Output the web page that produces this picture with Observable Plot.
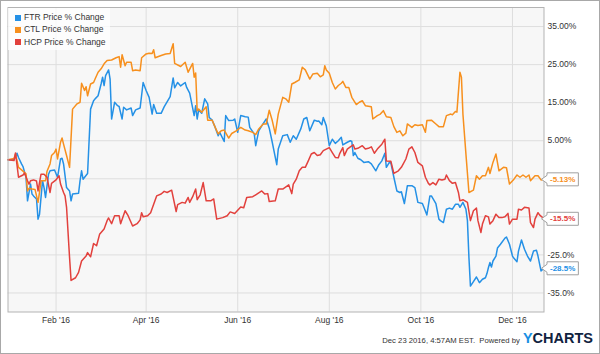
<!DOCTYPE html>
<html><head><meta charset="utf-8">
<script src="https://cdn.jsdelivr.net/npm/d3@7"></script>
<script src="https://cdn.jsdelivr.net/npm/@observablehq/plot@0.6"></script>
<style>
body{margin:0;background:#fff;font-family:"Liberation Sans",Arial,sans-serif;}
#wrap{position:relative;width:600px;height:354px;overflow:hidden;background:#fff;}
#wrap svg{position:absolute;left:0;top:0;}
#border{position:absolute;left:0;top:0;width:600px;height:354px;box-sizing:border-box;border:1px solid #a8a8a8;pointer-events:none;}
#legend{position:absolute;left:8px;top:8px;width:102px;height:42px;background:rgba(255,255,255,0.75);}
.lrow{position:absolute;left:7px;height:12px;line-height:12px;font-size:8.5px;color:#333;white-space:nowrap;}
.sw{display:inline-block;width:6px;height:6px;margin-right:3px;vertical-align:-0.5px;}
#footer{position:absolute;right:7px;top:330px;height:18px;display:flex;align-items:baseline;white-space:nowrap;}
#footer .ts{font-size:7.7px;color:#333;margin-right:3px;}
#footer .logo{font-size:14.5px;font-weight:bold;color:#10233f;letter-spacing:0px;}
#footer .logo .y{color:#1a8fe3;}
</style>
</head><body>
<div id="wrap"></div>
<script>
// ---- data (day of year 2016, Jan 1 = 0; values in % change) ----
const seriesNames = ["FTR Price % Change", "CTL Price % Change", "HCP Price % Change"];
const seriesColors = ["#2591e6", "#f7901e", "#e2413d"];
const endLabels = ["-28.5%", "-5.13%", "-15.5%"];

const ftr = [[-1,0],[3,0],[5,1.7],[6,0.6],[8,-1.1],[9,-1.8],[11,-4.6],[12,-10.8],[14,-6.4],[15,-9],[16,-9.5],[18,-10.3],[19,-15.6],[20,-14.3],[22,-5.5],[23,-7.3],[24,-9.9],[26,-3.8],[27,-2.9],[30,-2.7],[32,-4.6],[34,0.2],[35,0.4],[36,-1.1],[38,-7.3],[40,-8.2],[41,-10.8],[42,-9],[46,-8.8],[47,-5.5],[48,-2.9],[49,-5.1],[52,-3.6],[54,13.3],[56,15.5],[57,16],[59,16.8],[61,19.9],[62,21.7],[63,19.5],[64,22.1],[66,23.6],[67,21.2],[68,10.7],[70,15.1],[72,14.2],[73,14.0],[75,10.7],[76,13.8],[78,13.1],[81,13.6],[82,11.6],[84,13.1],[87,13.6],[89,20.3],[91,18.2],[93,16.4],[95,12],[96,14.5],[98,12.2],[101,12.2],[103,13.9],[107,16.6],[109,21.5],[110,18.9],[112,20.3],[114,19.4],[117,20.3],[118,19],[120,17.5],[123,11.6],[124,14.2],[125,10.7],[126,13.1],[128,12.2],[130,16],[132,14.7],[133,11.1],[135,10.4],[137,8.5],[139,6.3],[140,7.2],[143,4.8],[144,11.6],[146,10.3],[149,10.4],[150,10.7],[152,7.2],[154,11.6],[157,11.3],[159,11.2],[160,8.5],[163,6.8],[164,3.7],[166,7.6],[168,8.9],[171,10.7],[173,8.3],[175,4.6],[178,-1.3],[179,2.8],[182,6.3],[185,6.6],[187,4.6],[189,6.3],[191,5.4],[194,8.1],[196,10.7],[198,11.1],[200,7.6],[203,10.4],[205,10.1],[206,10.2],[208,9.2],[209,11.1],[211,8.9],[213,3.7],[215,5.4],[217,4.3],[219,5],[221,5.9],[222,3.9],[225,4.6],[227,5],[228,4.8],[229,1.1],[230,1.9],[232,0.4],[234,0],[236,-0.7],[239,-0.5],[241,-1.1],[244,-2.9],[246,-1.3],[248,-0.3],[250,1.7],[251,-2],[253,-0.7],[254,-0.8],[256,-4.6],[258,-8.2],[260,-8.6],[261,-8.4],[263,-11.5],[265,-6.8],[268,-6.8],[270,-7.3],[272,-11.2],[275,-11.5],[276,-12.5],[278,-14.5],[280,-9.5],[281,-9.5],[284,-11.5],[286,-15.6],[287,-16],[289,-16.5],[291,-13],[293,-12.7],[295,-13],[297,-11.7],[299,-11.7],[300,-12.5],[302,-11.2],[304,-13],[305,-16],[306,-25.7],[307,-33.2],[309,-32],[311,-30.8],[313,-32.3],[315,-31.4],[317,-31],[318,-29.9],[319,-28.3],[320,-27],[321,-28.2],[322,-26.6],[324,-25.3],[325,-23.2],[327,-22.2],[330,-20.6],[331,-20.3],[333,-22.2],[335,-25.3],[336,-25.9],[338,-26.8],[339,-24],[341,-21.1],[343,-23.5],[345,-25.3],[347,-26.6],[349,-24],[351,-23.8],[352,-25.3],[354,-29.2],[356,-28.5]];

const ctl = [[-1,0],[3,0.3],[4,1.5],[6,-2],[9,-3],[11,-3.7],[12,-8.2],[13,-7.5],[15,-7.7],[17,-7.8],[18,-9.5],[19,-11.2],[20,-8.5],[21,-5.5],[24,-5.5],[25,-3],[27,-1.1],[28,1.1],[30,1.9],[31,2.8],[32,0.2],[34,4.6],[35,5.7],[36,4.1],[38,1.1],[40,-2],[42,13.3],[45,14.7],[47,15.1],[48,20.1],[50,18.2],[51,19.2],[52,16.8],[54,19.9],[56,20.3],[57,21.2],[59,23],[61,23.9],[63,25.2],[65,26.1],[68,26.2],[71,26.8],[73,27.1],[74,24.3],[75,27.6],[77,24.7],[78,25.6],[81,25.6],[82,23.4],[84,23.6],[87,23.4],[88,26.8],[91,27.8],[93,28],[95,27.9],[96,28.9],[97,26.8],[101,27.4],[104,27.8],[107,27.9],[109,30.5],[110,25.3],[114,24.5],[117,25.6],[119,23],[122,25.3],[123,21.7],[124,22.8],[125,12.9],[126,13.3],[128,12.5],[131,13.9],[132,10.4],[135,10.4],[137,8.5],[139,6.8],[141,7.6],[143,7.8],[146,5.7],[148,6.9],[151,7.6],[154,8.5],[157,7.8],[159,7.6],[162,7.2],[164,6.6],[166,8.1],[169,9.4],[171,9.4],[173,13],[175,10.3],[177,6.8],[179,12],[182,16.4],[184,16],[186,15.1],[188,19.9],[190,20.3],[193,21],[195,24.3],[197,23.6],[200,21.2],[202,22.5],[205,22.7],[207,21.8],[209,22.3],[210,24.7],[211,23.6],[213,22.7],[215,20.3],[217,18.6],[219,19.5],[221,20.1],[222,20.6],[224,19],[226,19],[228,16.4],[231,14.5],[233,15.1],[235,15.5],[237,14.2],[241,13.9],[242,10.7],[245,11.6],[247,12],[249,12.9],[251,11.3],[254,11.1],[256,8.7],[258,7.2],[260,7.6],[262,6.3],[264,7.0],[265,9.4],[268,8.5],[270,9.2],[272,9.0],[275,9.2],[277,7.2],[278,10.3],[281,10.4],[284,9.4],[286,8.7],[289,8.7],[291,11.6],[294,12],[295,11.8],[297,12.7],[298,12.5],[300,23],[301,21.7],[302,12],[304,1.5],[306,-8.6],[309,-8],[311,-4.2],[313,-5.1],[315,-4.2],[317,-4.2],[319,-2],[320,-3.6],[322,-0.7],[324,1.5],[326,-2.9],[329,-2],[331,-2.1],[333,-6.4],[336,-5.1],[338,-4],[340,-4.6],[342,-4],[344,-4.6],[346,-4],[347,-5.5],[350,-4.2],[352,-4.2],[354,-5.3],[356,-5.13]];

const hcp = [[-1,0],[3,-0.2],[4,1.8],[6,-4.6],[9,-4.0],[10,-3.5],[12,-5.5],[13,-6.4],[14,-5.5],[16,-5.3],[18,-5.6],[19,-8.2],[21,-3.8],[23,-3.8],[25,-4.6],[27,-8.6],[28,-6.2],[31,-5.3],[33,-4.2],[34,-6.4],[36,-8.6],[37,-9.5],[38,-12.5],[40,-25.7],[41,-31.7],[44,-31],[46,-29.6],[48,-26.6],[51,-25.3],[52,-24.4],[54,-25.5],[56,-22],[58,-22.6],[60,-19.6],[63,-18.2],[65,-16],[66,-15.3],[68,-16.8],[70,-14.7],[73,-14.7],[74,-16.8],[77,-13.4],[79,-14.7],[82,-17.4],[85,-16.8],[87,-15.8],[88,-13.9],[89,-15],[92,-14.7],[94,-13.9],[98,-9.5],[101,-9],[103,-8.3],[105,-8.6],[108,-8],[111,-13.6],[112,-11.8],[115,-11.2],[117,-11.4],[119,-9.9],[120,-11.2],[122,-9.7],[124,-7.7],[125,-10.5],[127,-9.2],[129,-6],[131,-10.8],[134,-10.8],[136,-10.3],[138,-15.6],[142,-15.2],[145,-14.7],[147,-13.7],[150,-14.1],[154,-12.4],[156,-12.6],[158,-9.9],[162,-9.7],[164,-9.2],[168,-8.2],[170,-9],[172,-8.9],[173,-11],[177,-10.8],[179,-7.7],[182,-7.7],[186,-6.6],[188,-8.9],[189,-6.4],[191,-5.1],[193,-2.9],[195,-2],[197,-2],[199,-0.3],[201,1.5],[203,1.9],[205,1.1],[207,1.3],[209,2.4],[211,2.8],[213,3.2],[215,1.9],[217,0.6],[219,0.5],[220,1.7],[222,3.2],[223,1.1],[225,2.8],[227,3.4],[229,3.9],[230,2.8],[232,3.0],[235,3.7],[237,2.8],[239,3.0],[241,3.4],[243,1.7],[245,2.8],[248,4.1],[250,5.4],[251,-0.3],[254,-0.4],[256,-3.6],[259,-2.9],[261,-2],[264,0.2],[266,2.8],[268,3.4],[270,1.9],[272,-0.7],[275,-1.6],[277,-4.6],[279,-6.2],[280,-6.6],[282,-6],[284,-6.6],[286,-5.1],[288,-5.3],[290,-5.1],[291,-4],[293,-5.5],[295,-6.2],[297,-6],[299,-8.6],[300,-10.8],[302,-10.5],[305,-11.2],[307,-16],[309,-13.4],[311,-12.7],[312,-16],[314,-19.1],[315,-16.9],[317,-14.7],[319,-15],[320,-16.9],[322,-16],[324,-14.3],[326,-15.2],[328,-15.2],[330,-15],[332,-14.1],[333,-16.9],[335,-15.6],[338,-15.6],[339,-13],[341,-13.2],[343,-12.5],[346,-12.7],[347,-16.5],[349,-17.8],[350,-15.6],[352,-13.9],[353,-14.5],[356,-15.5]];

const xTicks = ["2016-02-01", "2016-04-01", "2016-06-01", "2016-08-01", "2016-10-01", "2016-12-01"];
const xTickLabels = ["Feb '16", "Apr '16", "Jun '16", "Aug '16", "Oct '16", "Dec '16"];
const yTicks = [35, 25, 15, 5, -5, -15, -25, -35];
const yTickLabels = ["35.00%", "25.00%", "15.00%", "5.00%", "", "", "-25.0%", "-35.0%"];
const xStart = -1, xEnd = 356;

// ---- build table ----
const toDate = d => new Date(Date.UTC(2016, 0, 1 + d));
const allSeries = [ftr, ctl, hcp];
const rows = [];
allSeries.forEach((s, i) => s.forEach(([d, v]) => rows.push({date: toDate(d), value: v, series: seriesNames[i]})));
const lastRows = allSeries.map((s, i) => ({date: toDate(s[s.length - 1][0]), value: s[s.length - 1][1], series: seriesNames[i], label: endLabels[i]}));
const xTickDates = xTicks.map(s => new Date(s + "T00:00:00Z"));

const FONT = '"Liberation Sans", Arial, sans-serif';
const chart = Plot.plot({
  width: 600, height: 354,
  marginLeft: 7.5, marginRight: 56.5, marginTop: 7, marginBottom: 42.5,
  style: {fontFamily: FONT, fontSize: "8.5px", color: "#333", background: "transparent", overflow: "visible"},
  x: {type: "utc", domain: [toDate(xStart), toDate(xEnd)], ticks: xTickDates,
      tickFormat: d => xTickLabels[xTickDates.findIndex(t => +t === +d)], tickSize: 0, tickPadding: 5, label: null},
  y: {domain: [-40, 40], axis: "right", ticks: yTicks,
      tickFormat: d => yTickLabels[yTicks.indexOf(d)], tickSize: 0, tickPadding: 3.5, label: null},
  color: {domain: seriesNames, range: seriesColors},
  marks: [
    Plot.frame({fill: "#f7f7f7"}),
    Plot.gridX(xTickDates, {stroke: "#dedede", strokeOpacity: 1}),
    Plot.gridY(yTicks, {stroke: "#dedede", strokeOpacity: 1}),
    Plot.line(rows, {x: "date", y: "value", z: "series", stroke: "series", strokeWidth: 1.5}),
    Plot.frame({stroke: "#b3b3b3"}),
    Plot.text(lastRows, {x: "date", y: "value", text: "label", fill: "series", dx: 6, textAnchor: "start",
      fontWeight: "bold", fontSize: 8})
  ]
});

const wrap = document.getElementById("wrap");
wrap.appendChild(chart);

// boxes with pointers behind the end labels
const texts = chart.querySelectorAll('g[aria-label="text"] text');
const svgRect = chart.getBoundingClientRect();
const textGroup = chart.querySelector('g[aria-label="text"]');
const boxG = document.createElementNS("http://www.w3.org/2000/svg", "g");
chart.insertBefore(boxG, textGroup);
const xs = chart.scale("x");
texts.forEach((t, i) => {
  const r = t.getBoundingClientRect();
  const left = r.left - svgRect.left - 3, right = r.right - svgRect.left + 3;
  const cy = (r.top + r.bottom) / 2 - svgRect.top;
  const top = cy - 6.5, bot = cy + 6.5;
  const tip = xs.apply(lastRows[i].date) - 2;
  const p = document.createElementNS("http://www.w3.org/2000/svg", "path");
  p.setAttribute("d", `M${tip},${cy}L${left},${cy - 4}L${left},${top}L${right},${top}L${right},${bot}L${left},${bot}L${left},${cy + 4}Z`);
  p.setAttribute("fill", "#fff");
  p.setAttribute("stroke", "#a0a0a0");
  p.setAttribute("stroke-width", "1");
  boxG.appendChild(p);
});

// legend
const legend = document.createElement("div");
legend.id = "legend";
seriesNames.forEach((n, i) => {
  const row = document.createElement("div");
  row.className = "lrow";
  row.style.top = (3 + i * 12.3) + "px";
  const sw = document.createElement("span");
  sw.className = "sw";
  sw.style.background = seriesColors[i];
  row.appendChild(sw);
  row.appendChild(document.createTextNode(n));
  legend.appendChild(row);
});
wrap.appendChild(legend);

// footer
const footer = document.createElement("div");
footer.id = "footer";
footer.innerHTML = '<span class="ts">Dec 23 2016, 4:57AM EST.&nbsp; Powered by</span><span class="logo"><span class="y">Y</span>CHARTS</span>';
wrap.appendChild(footer);

const border = document.createElement("div");
border.id = "border";
wrap.appendChild(border);
</script>
</body></html>
